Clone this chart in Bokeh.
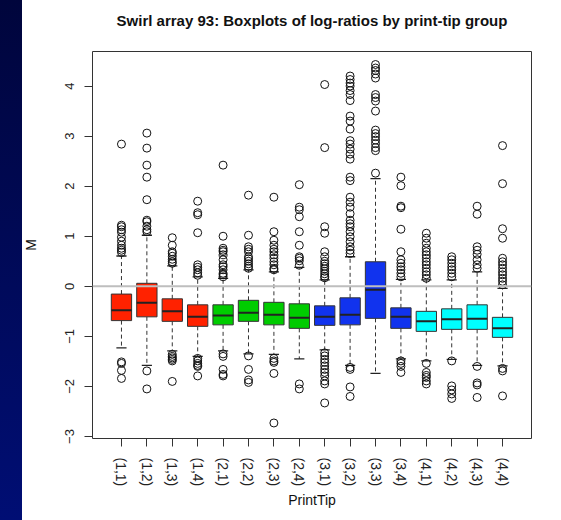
import numpy as np
from bokeh.plotting import figure
from bokeh.models import ColumnDataSource, Range1d, FixedTicker, Span, LinearAxis
from bokeh.embed import file_html
from bokeh.resources import INLINE

# ---- data ----
title_text = "Swirl array 93: Boxplots of log-ratios by print-tip group"
labels = ["(1,1)", "(1,2)", "(1,3)", "(1,4)", "(2,1)", "(2,2)", "(2,3)", "(2,4)",
          "(3,1)", "(3,2)", "(3,3)", "(3,4)", "(4,1)", "(4,2)", "(4,3)", "(4,4)"]
q3 = [-0.155, 0.06, -0.25, -0.37, -0.37, -0.28, -0.32, -0.35,
      -0.39, -0.23, 0.49, -0.43, -0.50, -0.45, -0.37, -0.62]
median = [-0.48, -0.33, -0.50, -0.61, -0.585, -0.53, -0.57, -0.63,
          -0.61, -0.57, -0.07, -0.61, -0.70, -0.66, -0.65, -0.84]
q1 = [-0.685, -0.61, -0.70, -0.80, -0.77, -0.70, -0.77, -0.84,
      -0.78, -0.77, -0.64, -0.84, -0.90, -0.86, -0.86, -1.02]
whisker_lo = [-1.23, -1.58, -1.29, -1.40, -1.29, -1.35, -1.36, -1.45,
              -1.27, -1.58, -1.74, -1.45, -1.49, -1.46, -1.58, -1.59]
whisker_hi = [0.605, 1.02, 0.41, 0.19, 0.16, 0.33, 0.29, 0.38,
              0.13, 0.59, 2.15, 0.14, 0.13, 0.13, 0.29, -0.04]
outliers = [
    [0.68, 0.72, 0.76, 0.82, 0.90, 0.98, 1.08, 1.13, 1.19, 1.22, 2.84, -1.51, -1.54, -1.68, -1.84],
    [1.09, 1.13, 1.20, 1.29, 1.32, 1.73, 2.18, 2.42, 2.76, 3.06, -1.69, -2.05],
    [0.46, 0.49, 0.54, 0.60, 0.66, 0.69, 0.82, 0.97, -1.36, -1.40, -1.43, -1.46, -1.49, -1.90],
    [0.22, 0.27, 0.33, 0.38, 0.43, 1.07, 1.43, 1.47, 1.70, -1.44, -1.49, -1.54, -1.58, -1.60, -1.79],
    [0.19, 0.23, 0.26, 0.33, 0.39, 0.43, 0.53, 0.63, 0.69, 0.72, 0.76, 1.00, 2.42,
     -1.35, -1.40, -1.66, -1.76, -1.79],
    [0.36, 0.40, 0.45, 0.50, 0.55, 0.59, 0.69, 0.74, 0.79, 1.02, 1.82, -1.39, -1.66, -1.87, -1.92],
    [0.33, 0.36, 0.43, 0.49, 0.56, 0.63, 0.69, 0.74, 0.82, 0.92, 1.09, 1.78,
     -1.44, -1.49, -1.52, -1.74, -2.73],
    [0.42, 0.51, 0.56, 0.59, 0.82, 1.09, 1.39, 1.53, 1.58, 2.03, -1.95, -2.05],
    [0.17, 0.20, 0.25, 0.30, 0.35, 0.40, 0.45, 0.50, 0.59, 0.69, 1.06, 1.19, 2.77, 4.03,
     -1.33, -1.39, -1.46, -1.52, -1.59, -1.66, -1.72, -1.79, -1.89, -1.95, -2.33],
    [0.66, 0.72, 0.79, 0.89, 0.99, 1.09, 1.19, 1.25, 1.32, 1.45, 1.58, 1.68, 1.78, 2.11, 2.18,
     2.54, 2.64, 2.74, 2.84, 2.91, 3.14, 3.30, 3.40, 3.71, 3.83, 3.91, 4.00, 4.06, 4.13, 4.20,
     -1.62, -1.66, -2.01, -2.20],
    [2.26, 2.71, 2.77, 2.85, 2.92, 2.99, 3.05, 3.12, 3.50, 3.70, 3.77, 3.83, 4.16, 4.24, 4.31,
     4.36, 4.43],
    [0.19, 0.26, 0.33, 0.39, 0.46, 0.53, 0.69, 1.14, 1.57, 1.60, 2.01, 2.18, -1.49, -1.54, -1.60, -1.72],
    [0.16, 0.23, 0.29, 0.36, 0.43, 0.49, 0.56, 0.63, 0.69, 0.76, 0.86, 0.96, 1.06,
     -1.54, -1.72, -1.78, -1.82, -1.89, -1.95],
    [0.19, 0.26, 0.33, 0.39, 0.46, 0.53, 0.59, -1.49, -1.99, -2.07, -2.15, -2.24],
    [0.36, 0.43, 0.53, 0.64, 0.72, 0.79, 1.44, 1.60, -1.60, -1.93, -1.97, -2.22],
    [0.03, 0.10, 0.16, 0.23, 0.29, 0.36, 0.43, 0.49, 0.56, 0.96, 1.15, 2.05, 2.81, -1.64, -1.69, -2.19],
]
y_ticks = [-3, -2, -1, 0, 1, 2, 3, 4]

# ---- styling ----
group_colors = ["#FF2200", "#00CC00", "#1133EE", "#00FFFF"]
FONT = "Liberation Sans"
BOX_W = 0.8
STAPLE_W = 0.4

n = len(labels)
xs = np.arange(1, n + 1, dtype=float)
fills = [group_colors[i // 4] for i in range(n)]

src = ColumnDataSource(dict(
    x=xs, q1=q1, q3=q3, med=median, lo=whisker_lo, hi=whisker_hi, fill=fills,
    xl=xs - BOX_W / 2, xr=xs + BOX_W / 2,
    sl=xs - STAPLE_W / 2, sr=xs + STAPLE_W / 2,
))

ox, oy = [], []
for i, vals in enumerate(outliers):
    ox.extend([xs[i]] * len(vals))
    oy.extend(vals)
osrc = ColumnDataSource(dict(x=ox, y=oy))

p = figure(width=561, height=520, output_backend="svg", toolbar_location=None,
           x_range=Range1d(-0.14, n + 1.14), y_range=Range1d(-3.04, 4.69),
           min_border_left=92, min_border_right=30, min_border_top=51, min_border_bottom=82)
p.border_fill_alpha = 0
p.background_fill_color = "white"
p.outline_line_color = "#333333"
p.outline_line_width = 1
p.grid.visible = False

# title drawn as the label of a tick-less axis above the frame
title_axis = LinearAxis(ticker=FixedTicker(ticks=[]), axis_label=title_text,
                        axis_line_color=None, major_tick_line_color=None,
                        minor_tick_line_color=None, major_label_text_font_size="0px",
                        axis_label_standoff=23, axis_label_align="center",
                        axis_label_text_font=FONT, axis_label_text_font_size="15px",
                        axis_label_text_font_style="bold", axis_label_text_color="#111111")
p.add_layout(title_axis, "above")

# whiskers
p.segment(x0="x", x1="x", y0="q3", y1="hi", source=src, line_color="#333333",
          line_width=1, line_dash="4 3")
p.segment(x0="x", x1="x", y0="q1", y1="lo", source=src, line_color="#333333",
          line_width=1, line_dash="4 3")
# staples
p.segment(x0="sl", x1="sr", y0="hi", y1="hi", source=src, line_color="#222222", line_width=1.3)
p.segment(x0="sl", x1="sr", y0="lo", y1="lo", source=src, line_color="#222222", line_width=1.3)
# boxes
p.vbar(x="x", width=BOX_W, bottom="q1", top="q3", source=src, fill_color="fill",
       line_color="#333333", line_width=1)
# medians
p.segment(x0="xl", x1="xr", y0="med", y1="med", source=src, line_color="#222222", line_width=2)
# outliers
p.scatter(x="x", y="y", source=osrc, marker="circle", size=8, fill_color=None,
          line_color="#111111", line_width=1)

p.add_layout(Span(location=0, dimension="width", line_color="#BEBEBE", line_width=2))

# axes
for ax in (p.below[0], p.left[0]):
    ax.axis_line_color = None
    ax.major_tick_line_color = "#333333"
    ax.major_tick_out = 8
    ax.major_tick_in = 0
    ax.minor_tick_line_color = None
    ax.major_label_text_font = FONT
    ax.major_label_text_font_size = "13px"
    ax.major_label_text_color = "#222222"
    ax.axis_label_text_font = FONT
    ax.axis_label_text_font_size = "14px"
    ax.axis_label_text_font_style = "normal"
    ax.axis_label_text_color = "#111111"

xax = p.below[0]
xax.ticker = FixedTicker(ticks=list(xs))
xax.major_label_overrides = {float(v): lab for v, lab in zip(xs, labels)}
xax.major_label_orientation = "vertical"
xax.major_label_text_font_size = "14px"
xax.major_label_standoff = 11
xax.axis_label = "PrintTip"
xax.axis_label_standoff = 3

yax = p.left[0]
yax.ticker = FixedTicker(ticks=y_ticks)
yax.major_label_orientation = "vertical"
yax.major_label_standoff = 10
yax.axis_label = "M"
yax.axis_label_standoff = 24

html = file_html(p, INLINE)
style = ("<style>html{background:linear-gradient(#00053C,#000E74) 0 0/22px 100vh no-repeat fixed,"
         "#ffffff;}</style>")
html = html.replace("<head>", "<head>" + style, 1)
open("out.html", "w").write(html)
